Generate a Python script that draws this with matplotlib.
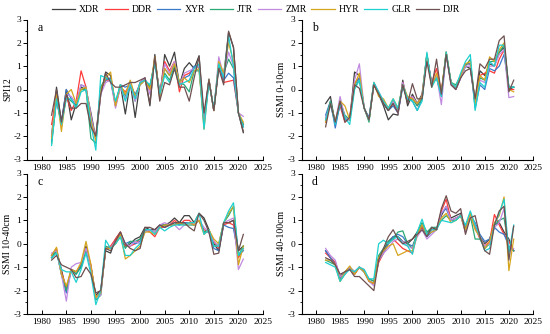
import matplotlib
matplotlib.use("Agg")
import matplotlib.pyplot as plt
from matplotlib.ticker import MultipleLocator

plt.rcParams['font.family'] = ['Liberation Serif', 'DejaVu Serif']
plt.rcParams['axes.unicode_minus'] = False

years = list(range(1982, 2022))
series_names = ["XDR", "DDR", "XYR", "JTR", "ZMR", "HYR", "GLR", "DJR"]
colors = ['#3f3f3f', '#ff3b3b', '#3a78c9', '#2aa876', '#c08ae0', '#d6a51e', '#1fd0d0', '#6e5050']

# Panel a: SPI12
spi12_XDR = [-2.0, 0.1, -1.4, 0.0, -1.3, -0.6, 0.1, 0.0, -1.0, -2.1,
             -0.2, 0.75, 0.6, -0.7, 0.2, -1.05, 0.3, -1.2, 0.3, 0.5,
             -0.7, 1.5, -0.4, 1.5, 1.0, 1.6, 0.2, 0.9, 1.15, 0.9,
             1.45, -1.4, 0.45, -0.9, 1.0, 0.6, 2.45, 1.8, -1.0, -1.85]
spi12_DDR = [-1.5, -0.3, -1.5, -0.3, -0.9, -0.5, 0.8, 0.1, -1.3, -2.0,
             0.0, 0.4, 0.4, -0.7, 0.1, -0.1, 0.2, -0.3, 0.3, 0.4,
             0.0, 1.3, -0.2, 1.2, 0.8, 1.2, -0.1, 0.6, 0.7, 0.9,
             1.0, -1.4, 0.4, -0.9, 1.1, 0.3, 0.35, 0.4, -1.0, -1.5]
spi12_XYR = [-2.2, -0.5, -1.4, 0.0, -0.4, -0.7, 0.2, 0.1, -1.2, -2.1,
             0.1, 0.4, 0.5, -0.6, 0.2, 0.1, 0.2, -0.2, 0.2, 0.4,
             0.1, 1.2, -0.1, 0.9, 0.6, 1.1, 0.3, 0.5, 0.6, 1.0,
             1.0, -1.3, 0.4, -0.9, 1.1, 0.4, 0.7, 0.5, -1.0, -1.6]
spi12_JTR = [-2.3, -0.4, -1.5, -0.3, -0.5, -0.7, 0.0, 0.0, -2.1, -2.3,
             0.1, 0.5, 0.4, -0.6, 0.2, -0.3, 0.3, -0.5, 0.3, 0.4,
             0.1, 1.2, -0.2, 0.7, 0.4, 1.0, 0.3, 0.2, -0.1, 0.8,
             0.8, -1.5, 0.4, -0.9, 1.0, 0.7, 1.3, 0.9, -1.0, -1.5]
spi12_ZMR = [-2.0, -0.3, -1.6, -0.2, -0.3, -0.6, 0.2, 0.1, -1.1, -2.2,
             -0.2, 0.3, 0.4, -0.8, 0.1, -0.4, 0.3, -0.5, 0.3, 0.5,
             -0.2, 1.3, -0.3, 1.1, 0.7, 1.2, 0.2, 0.7, 0.8, 0.9,
             1.0, -1.5, 0.4, -0.9, 1.4, 0.6, 1.6, 1.0, -1.0, -1.15]
spi12_HYR = [-2.1, -0.2, -1.8, -0.2, 0.0, -0.6, 0.0, 0.1, -1.3, -2.2,
             0.0, 0.5, 0.75, -0.7, 0.2, -0.2, 0.4, -0.3, 0.2, 0.4,
             0.0, 1.4, -0.3, 0.9, 0.6, 1.1, 0.3, 0.5, 0.3, 0.8,
             0.9, -1.7, 0.4, -0.9, 1.2, 0.7, 2.0, 1.2, -1.0, -1.4]
spi12_GLR = [-2.4, -0.4, -1.5, -0.4, -0.4, -0.8, -0.1, 0.0, -1.5, -2.6,
             0.6, 0.5, 0.4, -0.5, 0.2, -0.5, 0.2, -0.4, 0.3, 0.4,
             0.2, 1.1, -0.2, 0.6, 0.3, 0.9, 0.2, 0.3, 0.4, 0.9,
             1.1, -1.7, 0.3, -0.8, 1.1, 0.5, 2.3, 1.0, -1.0, -1.6]
spi12_DJR = [-1.1, 0.0, -1.4, -0.2, -0.8, -0.8, -0.6, -0.6, -1.6, -2.0,
             -0.2, 0.7, 0.3, 0.1, 0.1, 0.2, 0.3, 0.3, 0.4, 0.5,
             -0.6, 1.4, -0.5, 0.3, 0.2, 0.9, 0.1, 0.1, -0.5, 0.5,
             1.4, -1.0, 0.4, -0.9, 0.9, 0.2, 2.5, 1.8, -1.0, -1.8]

# Panel b: SSMI 0-10cm
s010_XDR = [-0.6, -0.3, -1.5, -0.5, -1.2, -1.3, 0.75, 0.6, -0.8, -1.3,
            0.2, -0.2, -0.7, -1.3, -1.05, -1.1, 0.4, -0.7, -0.2, -0.6,
            -0.2, 1.5, 0.2, 0.6, -0.2, 1.6, 0.3, 0.0, 0.5, 1.0,
            0.9, -0.5, 0.8, 0.6, 1.1, 1.0, 1.6, 1.8, 0.0, 0.1]
s010_DDR = [-1.4, -0.6, -1.4, -0.7, -1.4, -1.2, 0.3, 0.5, -0.8, -1.3,
            0.2, -0.2, -0.6, -0.9, -0.6, -1.0, 0.3, -0.5, -0.3, -0.7,
            -0.3, 1.4, 0.3, 0.9, -0.1, 1.5, 0.3, 0.1, 0.6, 1.1,
            1.1, -0.6, 0.6, 0.7, 0.8, 0.7, 1.3, 1.7, 0.0, 0.0]
s010_XYR = [-1.1, -0.5, -1.65, -0.6, -1.3, -1.3, 0.2, 0.5, -0.8, -1.2,
            0.3, -0.2, -0.6, -0.9, -0.7, -1.0, 0.1, -0.4, -0.5, -0.9,
            -0.4, 1.5, 0.2, 0.5, -0.3, 1.5, 0.3, 0.1, 0.5, 1.1,
            1.1, -0.8, 0.2, 0.0, 0.9, 0.8, 1.0, 1.5, 0.1, 0.1]
s010_JTR = [-1.3, -0.5, -1.4, -0.5, -1.1, -1.3, 0.1, 0.4, -0.8, -1.4,
            0.3, -0.2, -0.6, -0.9, -0.5, -0.9, 0.2, -0.5, -0.4, -0.7,
            -0.4, 1.5, 0.2, 0.5, -0.2, 1.6, 0.3, 0.2, 0.6, 1.0,
            1.3, -0.7, 0.5, 0.4, 1.2, 1.2, 1.6, 1.9, 0.1, 0.1]
s010_ZMR = [-1.2, -0.7, -1.4, -0.3, -1.2, -1.3, 0.4, 1.1, -0.8, -1.3,
            0.3, -0.1, -0.5, -0.8, -0.5, -1.0, 0.3, -0.4, -0.3, -0.6,
            -0.3, 1.4, 0.2, 0.6, -0.65, 1.5, 0.2, 0.0, 0.5, 1.0,
            1.0, -0.6, 0.4, 0.3, 1.0, 1.0, 1.5, 1.7, -0.35, -0.3]
s010_HYR = [-1.4, -0.6, -1.4, -0.5, -0.7, -1.3, 0.2, 0.7, -0.8, -1.3,
            0.3, -0.3, -0.4, -0.8, -0.4, -0.8, 0.2, -0.3, -0.4, -0.6,
            -0.3, 1.5, 0.1, 0.7, -0.1, 1.6, 0.3, 0.1, 0.6, 1.1,
            1.2, -0.6, 0.6, 0.4, 1.4, 1.2, 1.7, 2.0, 0.0, -0.1]
s010_GLR = [-1.3, -0.6, -1.5, -0.6, -1.2, -1.5, 0.0, 0.4, -0.8, -1.3,
            0.3, -0.1, -0.5, -0.8, -0.4, -0.8, 0.2, -0.4, -0.5, -0.9,
            -0.5, 1.6, 0.1, 0.5, -0.3, 1.6, 0.3, 0.1, 0.7, 1.2,
            1.5, -0.9, 0.3, 0.1, 1.2, 1.0, 1.9, 1.9, 0.1, 0.1]
s010_DJR = [-1.6, -0.6, -1.4, -0.5, -1.4, -1.2, 0.2, 0.05, -0.8, -1.3,
            0.2, -0.2, -0.6, -0.9, -0.6, -1.0, 0.2, -0.6, 0.25, -0.4,
            -0.4, 1.2, 0.1, 1.3, -0.2, 1.5, 0.2, 0.0, 0.5, 0.8,
            0.9, -0.4, 1.1, 0.9, 1.3, 1.3, 2.1, 2.3, -0.1, 0.4]

# Panel c: SSMI 10-40cm
s1040_XDR = [-0.6, -0.3, -1.1, -2.0, -1.1, -1.2, -1.0, -0.1, -1.0, -2.2,
             -2.0, -0.3, -0.4, 0.2, 0.5, -0.1, 0.0, 0.2, 0.3, 0.7,
             0.6, 0.6, 0.8, 0.8, 0.9, 1.1, 0.9, 1.2, 1.2, 0.9,
             1.3, 1.1, 0.6, 0.0, -0.3, 0.9, 0.9, 1.0, -0.3, -0.1]
s1040_DDR = [-0.5, -0.2, -1.2, -1.9, -1.1, -1.2, -0.9, -0.2, -0.9, -2.3,
             -2.1, -0.2, -0.1, 0.2, 0.5, -0.1, -0.1, 0.0, 0.2, 0.6,
             0.5, 0.3, 0.7, 0.7, 0.8, 1.0, 0.8, 1.0, 1.0, 0.8,
             1.0, 0.6, 0.5, 0.1, -0.2, 0.8, 0.9, 0.8, -0.6, -0.2]
s1040_XYR = [-0.5, -0.3, -1.3, -2.1, -1.1, -1.3, -0.9, -0.2, -1.0, -2.3,
             -2.1, -0.2, -0.2, 0.1, 0.4, 0.0, 0.1, 0.0, 0.1, 0.6,
             0.6, 0.5, 0.8, 0.7, 0.8, 0.9, 0.8, 0.9, 0.9, 0.8,
             1.0, 0.5, 0.5, -0.2, -0.3, 0.8, 0.7, 0.65, -0.5, -0.3]
s1040_JTR = [-0.6, -0.3, -1.3, -2.0, -1.1, -1.3, -1.0, -0.3, -1.0, -2.4,
             -2.2, -0.1, -0.2, 0.0, 0.3, -0.2, 0.1, 0.1, 0.2, 0.6,
             0.6, 0.5, 0.8, 0.8, 0.8, 0.8, 0.9, 0.8, 0.8, 0.8,
             1.0, 0.5, 0.6, -0.1, 0.0, 0.9, 1.2, 1.6, -0.5, -0.1]
s1040_ZMR = [-0.4, -0.3, -1.3, -2.45, -1.0, -0.85, -0.8, -0.2, -1.0, -2.3,
             -2.2, -0.2, -0.2, 0.1, 0.4, 0.0, -0.1, 0.1, 0.0, 0.5,
             0.6, 0.5, 0.8, 0.9, 0.8, 0.8, 0.6, 0.8, 0.9, 0.8,
             1.0, 0.7, 0.5, 0.1, -0.1, 0.9, 1.0, 1.1, -1.1, -0.65]
s1040_HYR = [-0.5, -0.15, -1.3, -1.8, -1.1, -1.2, -0.8, 0.1, -0.9, -2.3,
             -2.1, -0.2, -0.2, 0.0, 0.4, -0.65, -0.5, -0.3, -0.1, 0.5,
             0.5, 0.4, 0.7, 0.8, 0.8, 0.8, 0.9, 0.8, 0.9, 0.8,
             1.0, 0.4, 0.6, 0.2, 0.0, 0.9, 1.3, 1.6, -0.9, -0.1]
s1040_GLR = [-0.6, -0.4, -1.1, -1.2, -1.2, -1.65, -1.1, -0.4, -1.3, -2.6,
             -2.0, 0.15, -0.2, 0.0, 0.3, -0.5, -0.5, -0.2, 0.0, 0.6,
             0.6, 0.4, 0.7, 0.55, 0.7, 0.8, 0.8, 0.8, 0.9, 0.9,
             1.3, 0.4, 0.6, -0.1, -0.1, 0.9, 1.4, 1.75, -0.5, -0.2]
s1040_DJR = [-0.7, -0.5, -0.9, -1.0, -1.1, -1.45, -1.4, -1.0, -1.3, -2.1,
             -2.0, -0.2, -0.3, 0.1, 0.5, 0.0, -0.2, -0.3, -0.2, 0.7,
             0.7, 0.6, 0.8, 0.7, 0.8, 0.9, 0.9, 0.9, 0.7, 0.55,
             1.3, 1.0, 0.5, -0.45, -0.4, 0.9, 0.9, 1.0, -0.3, 0.4]

# Panel d: SSMI 40-100cm
s40100_XDR = [-0.3, -0.6, -0.8, -1.4, -1.2, -1.0, -1.3, -1.0, -1.2, -1.6,
              -1.7, -0.6, -0.3, 0.1, 0.3, 0.3, 0.1, 0.0, 0.2, 0.5,
              0.7, 0.4, 0.7, 0.6, 1.2, 1.6, 1.1, 1.2, 1.3, 0.6,
              1.3, 0.8, 0.3, 0.0, 0.2, 0.8, 0.9, 0.5, 0.2, -0.3]
s40100_DDR = [-0.4, -0.6, -0.8, -1.4, -1.3, -1.0, -1.3, -1.0, -1.2, -1.6,
              -1.7, -0.8, -0.4, 0.0, 0.2, 0.0, -0.2, -0.3, -0.4, 0.4,
              0.7, 0.4, 0.6, 0.6, 1.4, 1.9, 1.0, 1.1, 1.2, 0.5,
              1.2, 0.7, 0.2, -0.1, 0.1, 1.25, 0.8, 0.4, 0.1, -0.3]
s40100_XYR = [-0.3, -0.6, -0.9, -1.5, -1.2, -1.0, -1.2, -1.0, -1.2, -1.5,
              -1.6, -0.7, -0.4, 0.0, 0.3, 0.4, 0.3, 0.0, -0.1, 0.4,
              0.8, 0.3, 0.5, 0.6, 1.3, 1.5, 1.0, 1.1, 1.2, 0.7,
              1.2, 0.9, 0.4, 0.1, 0.2, 0.7, 0.5, 0.4, -0.1, -0.3]
s40100_JTR = [-0.7, -0.8, -0.9, -1.6, -1.3, -1.0, -1.2, -1.0, -1.2, -1.5,
              -1.6, -0.5, -0.2, 0.1, 0.2, 0.5, 0.55, 0.0, -0.2, 0.5,
              0.9, 0.5, 0.7, 0.7, 1.0, 1.2, 1.0, 1.0, 1.2, 0.6,
              1.2, 0.2, 0.2, -0.2, 0.0, 0.8, 1.0, 1.1, -0.2, -0.3]
s40100_ZMR = [-0.2, -0.5, -0.7, -1.4, -1.3, -1.0, -1.2, -1.0, -1.1, -1.6,
              -1.8, -0.7, -0.4, -0.2, 0.1, 0.2, 0.1, -0.1, -0.2, 0.3,
              0.6, 0.2, 0.4, 0.6, 1.3, 1.6, 1.0, 1.1, 1.2, 0.5,
              1.2, 0.8, 0.3, -0.1, 0.0, 0.7, 0.9, 1.5, -0.3, -0.2]
s40100_HYR = [-0.7, -0.7, -0.9, -1.6, -1.2, -0.95, -1.3, -1.0, -1.2, -1.6,
              -1.7, -0.6, -0.3, -0.1, 0.0, -0.5, -0.4, -0.3, -0.3, 0.4,
              0.8, 0.4, 0.5, 0.6, 1.1, 1.3, 0.9, 1.0, 1.2, 0.6,
              1.3, 0.6, 0.3, -0.2, 0.1, 0.9, 1.2, 2.0, -1.15, 0.2]
s40100_GLR = [-0.8, -0.9, -1.0, -1.6, -1.3, -1.1, -1.2, -1.0, -1.1, -1.5,
              -1.5, 0.0, 0.15, 0.0, 0.2, 0.3, 0.0, -0.1, -0.45, 0.5,
              1.05, 0.4, 0.6, 0.6, 1.0, 0.95, 0.9, 1.0, 1.2, 0.8,
              1.4, 0.8, 0.3, -0.3, -0.2, 0.8, 1.3, 1.9, -0.4, 0.8]
s40100_DJR = [-0.6, -0.7, -0.9, -1.3, -1.2, -1.1, -1.4, -1.4, -1.6, -1.8,
              -2.0, -0.7, -0.2, 0.3, 0.6, 0.2, 0.0, 0.1, 0.2, 0.4,
              0.6, 0.3, 0.7, 0.6, 1.5, 2.05, 1.4, 1.3, 1.5, 0.4,
              1.1, 1.2, 0.3, -0.3, -0.45, 0.8, 1.4, 1.6, -0.7, 0.75]

panels = [
    ("a", "SPI12", [spi12_XDR, spi12_DDR, spi12_XYR, spi12_JTR, spi12_ZMR, spi12_HYR, spi12_GLR, spi12_DJR]),
    ("b", "SSMI 0-10cm", [s010_XDR, s010_DDR, s010_XYR, s010_JTR, s010_ZMR, s010_HYR, s010_GLR, s010_DJR]),
    ("c", "SSMI 10-40cm", [s1040_XDR, s1040_DDR, s1040_XYR, s1040_JTR, s1040_ZMR, s1040_HYR, s1040_GLR, s1040_DJR]),
    ("d", "SSMI 40-100cm", [s40100_XDR, s40100_DDR, s40100_XYR, s40100_JTR, s40100_ZMR, s40100_HYR, s40100_GLR, s40100_DJR]),
]

W, H = 550, 334
fig = plt.figure(figsize=(5.5, 3.34), dpi=100)
rects = [
    (27, 19.5, 263, 159.5),
    (301.5, 19.5, 533, 159.5),
    (27, 173.5, 263, 314),
    (301.5, 173.5, 533, 314),
]
handles = None
for (letter, ylab, data), (x0, y0, x1, y1) in zip(panels, rects):
    ax = fig.add_axes([x0 / W, 1 - y1 / H, (x1 - x0) / W, (y1 - y0) / H])
    hs = []
    for name, col, vals in zip(series_names, colors, data):
        h, = ax.plot(years, vals, color=col, lw=0.9, label=name)
        hs.append(h)
    handles = hs
    ax.set_xlim(1977, 2025)
    ax.set_ylim(-3, 3)
    ax.set_xticks(range(1980, 2026, 5))
    ax.set_yticks(range(-3, 4))
    ax.yaxis.set_minor_locator(MultipleLocator(0.5))
    ax.spines['top'].set_visible(False)
    ax.spines['right'].set_visible(False)
    for s in ax.spines.values():
        s.set_linewidth(0.8)
    ax.tick_params(axis='x', direction='in', length=3, width=0.7, labelsize=6.8, pad=3)
    ax.tick_params(axis='y', which='major', direction='out', length=3, width=0.7, labelsize=6.8, pad=1.2)
    ax.tick_params(axis='y', which='minor', direction='out', length=1.5, width=0.6)
    ax.set_ylabel(ylab, fontsize=7, labelpad=1)
    ax.text(1979.2, 2.65, letter, fontsize=8.5, va='center', ha='left')

fig.legend(handles, series_names, loc='center', bbox_to_anchor=(256 / W, 1 - 10 / H),
           ncol=8, frameon=False, fontsize=7, handlelength=2.4, handletextpad=0.4,
           columnspacing=0.5, borderpad=0)

fig.savefig("out.png", dpi=100)
